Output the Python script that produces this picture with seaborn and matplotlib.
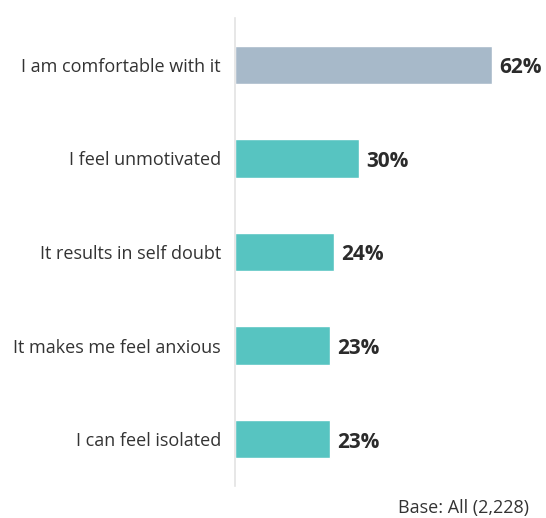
import matplotlib
matplotlib.use("Agg")
import matplotlib.pyplot as plt
import seaborn as sns
import pandas as pd

categories = [
    "I am comfortable with it",
    "I feel unmotivated",
    "It results in self doubt",
    "It makes me feel anxious",
    "I can feel isolated",
]
values = [62, 30, 24, 23, 23]
bar_colors = ["#a7b9c9", "#57c4c1", "#57c4c1", "#57c4c1", "#57c4c1"]
base_note = "Base: All (2,228)"

sns.set_theme(style="white")
plt.rcParams["font.family"] = ["Open Sans", "DejaVu Sans"]

df = pd.DataFrame({"category": categories, "value": values})

W, H = 546, 518
fig = plt.figure(figsize=(W / 100, H / 100), dpi=100)
ax = fig.add_axes([235 / W, 1 - 486 / H, (530 - 235) / W, (486 - 18) / H])

sns.barplot(data=df, x="value", y="category", hue="category",
            palette=bar_colors, legend=False, width=0.41, ax=ax,
            saturation=1)

ax.set_xlim(0, 71.2)
ax.set_ylim(4.5, -0.5)
ax.set_xlabel("")
ax.set_ylabel("")
ax.set_xticks([])
for side in ["top", "right", "bottom"]:
    ax.spines[side].set_visible(False)
ax.spines["left"].set_color("#e3e3e3")
ax.spines["left"].set_linewidth(1.2)
ax.tick_params(axis="y", length=0, pad=10, labelsize=13, labelcolor="#333333")

for i, v in enumerate(values):
    ax.text(v + 1.7, i + 0.03, f"{v}%", va="center", ha="left",
            fontsize=15, fontweight="bold", color="#2b2b2b")

fig.text(529 / W, 1 - 508 / H, base_note, ha="right", va="center",
         fontsize=13, color="#333333")

fig.savefig("out.png", dpi=100)
